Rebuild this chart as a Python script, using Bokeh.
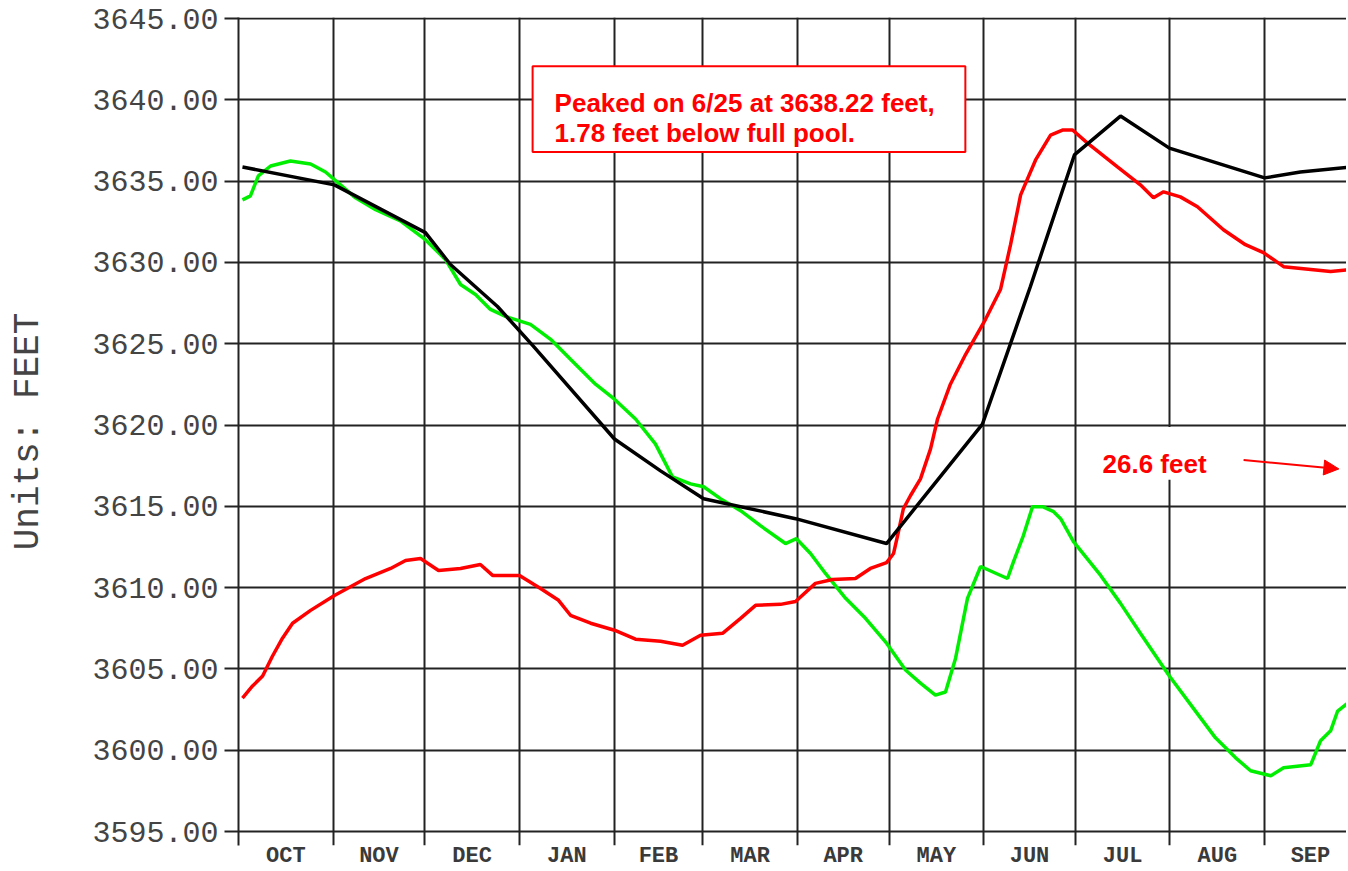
from bokeh.plotting import figure
from bokeh.models import FixedTicker, Range1d, BoxAnnotation, Label, Arrow, NormalHead
from bokeh.embed import file_html
from bokeh.resources import INLINE

# ---- data (day of water year, starting Oct 1 = day 0) ----
month_names = ["OCT", "NOV", "DEC", "JAN", "FEB", "MAR", "APR", "MAY", "JUN", "JUL", "AUG", "SEP"]
month_edges = [0, 31, 61, 92, 123, 152, 183, 213, 244, 274, 305, 336, 366]
month_mid = [(a + b) / 2 for a, b in zip(month_edges[:-1], month_edges[1:])]

y_ticks = [3595, 3600, 3605, 3610, 3615, 3620, 3625, 3630, 3635, 3640, 3645]
y_tick_labels = ["3595.00", "3600.00", "3605.00", "3610.00", "3615.00", "3620.00",
                 "3625.00", "3630.00", "3635.00", "3640.00", "3645.00"]

black_day = [1.3, 31.4, 61.2, 69.4, 84.8, 96.6, 123.1, 138.2, 152.3, 182.4, 212.2,
             243.6, 259.3, 273.7, 288.8, 304.8, 336.0, 347.7, 364.1]
black_ft = [3635.87, 3634.77, 3631.83, 3629.87, 3627.29, 3624.84, 3619.14, 3617.18, 3615.47,
            3614.24, 3612.71, 3620.06, 3628.52, 3636.61, 3639.00, 3637.03, 3635.20, 3635.56, 3635.87]

red_day = [1.3, 4.6, 7.9, 11.1, 14.4, 17.7, 23.6, 31.4, 41.6, 49.8, 54.7, 59.6, 65.5, 72.7,
           79.2, 83.2, 92.0, 98.9, 104.8, 108.7, 115.3, 123.1, 130.0, 138.2, 145.4, 151.3,
           158.5, 164.4, 169.3, 177.5, 182.4, 188.9, 194.5, 202.0, 206.9, 212.2, 214.5,
           216.1, 217.7, 220.0, 223.3, 226.6, 228.9, 233.1, 238.1, 244.6, 249.5, 252.8,
           256.1, 261.0, 265.9, 269.8, 273.1, 278.0, 287.8, 295.3, 299.6, 302.9, 308.4,
           314.0, 322.5, 329.7, 335.6, 342.2, 357.6, 364.1]
red_ft = [3603.21, 3603.95, 3604.56, 3605.78, 3606.89, 3607.81, 3608.60, 3609.52, 3610.56,
          3611.18, 3611.67, 3611.79, 3611.05, 3611.18, 3611.42, 3610.75, 3610.75, 3609.95,
          3609.22, 3608.30, 3607.81, 3607.38, 3606.83, 3606.70, 3606.46, 3607.07, 3607.19,
          3608.11, 3608.91, 3608.97, 3609.15, 3610.26, 3610.50, 3610.56, 3611.18, 3611.54,
          3612.10, 3613.44, 3614.85, 3615.65, 3616.69, 3618.53, 3620.37, 3622.51, 3624.35,
          3626.50, 3628.33, 3631.09, 3634.15, 3636.30, 3637.83, 3638.14, 3638.14, 3637.34,
          3635.87, 3634.77, 3633.97, 3634.34, 3634.03, 3633.42, 3632.01, 3631.09, 3630.60,
          3629.74, 3629.44, 3629.56]

green_day = [1.3, 3.9, 6.5, 10.5, 17.0, 23.6, 28.5, 33.4, 38.3, 44.9, 53.0, 61.2, 67.8, 72.7,
             77.6, 82.5, 87.4, 95.6, 102.2, 108.7, 116.9, 123.1, 130.0, 136.5, 142.1, 148.0,
             152.3, 157.8, 164.4, 170.9, 179.1, 182.7, 187.3, 192.2, 198.8, 205.3, 212.2,
             218.4, 223.3, 228.2, 231.5, 234.8, 238.7, 243.0, 251.8, 253.8, 257.0, 260.0,
             263.3, 266.9, 269.2, 273.4, 282.3, 288.8, 295.3, 304.8, 315.0, 319.9, 326.5,
             331.4, 338.0, 342.2, 351.1, 354.3, 357.6, 359.9, 364.1]
green_ft = [3633.85, 3634.09, 3635.32, 3635.93, 3636.24, 3636.05, 3635.56, 3634.77, 3633.97,
            3633.24, 3632.56, 3631.40, 3630.17, 3628.64, 3628.03, 3627.11, 3626.68, 3626.19,
            3625.27, 3624.04, 3622.51, 3621.59, 3620.37, 3618.84, 3616.81, 3616.38, 3616.20,
            3615.47, 3614.73, 3613.81, 3612.71, 3613.01, 3612.10, 3610.87, 3609.34, 3608.11,
            3606.58, 3604.93, 3604.13, 3603.39, 3603.58, 3605.66, 3609.34, 3611.30, 3610.56,
            3611.61, 3613.20, 3614.98, 3614.98, 3614.67, 3614.24, 3612.83, 3610.75, 3609.03,
            3607.19, 3604.56, 3601.99, 3600.76, 3599.53, 3598.74, 3598.43, 3598.92, 3599.11,
            3600.58, 3601.19, 3602.41, 3603.03]

note_peak = ["Peaked on 6/25 at 3638.22 feet,", "1.78 feet below full pool."]
note_diff = "26.6 feet"

# ---- figure ----
GRID = "#222222"
p = figure(width=1346, height=871, output_backend="svg", toolbar_location=None,
           x_range=Range1d(0, 362.8), y_range=Range1d(3594.14, 3645.062),
           min_border_left=238, min_border_right=0, min_border_top=17, min_border_bottom=24)
p.outline_line_color = None
p.background_fill_color = "white"
p.border_fill_color = "white"

# y axis
p.yaxis.ticker = FixedTicker(ticks=y_ticks)
p.yaxis.major_label_overrides = {t: s for t, s in zip(y_ticks, y_tick_labels)}
p.yaxis.major_label_text_font = "Liberation Mono"
p.yaxis.major_label_text_font_size = "30px"
p.yaxis.major_label_text_color = "#444444"
p.yaxis.major_label_standoff = 6
p.yaxis.major_tick_out = 14
p.yaxis.major_tick_in = 0
p.yaxis.major_tick_line_color = GRID
p.yaxis.major_tick_line_width = 2
p.yaxis.minor_tick_line_color = None
p.yaxis.axis_line_color = GRID
p.yaxis.axis_line_width = 2
p.yaxis.axis_label = "Units: FEET"
p.yaxis.axis_label_text_font = "Liberation Mono"
p.yaxis.axis_label_text_font_size = "36px"
p.yaxis.axis_label_text_font_style = "normal"
p.yaxis.axis_label_text_color = "#444444"
p.yaxis.axis_label_standoff = 40

# x axis (month names centred in each month)
p.xaxis.ticker = FixedTicker(ticks=month_mid)
p.xaxis.major_label_overrides = {t: s for t, s in zip(month_mid, month_names)}
p.xaxis.major_label_text_font = "Liberation Mono"
p.xaxis.major_label_text_font_size = "22px"
p.xaxis.major_label_text_font_style = "bold"
p.xaxis.major_label_text_color = "#3a3a3a"
p.xaxis.major_label_standoff = -2
p.xaxis.major_tick_out = 0
p.xaxis.major_tick_in = 0
p.xaxis.major_tick_line_color = None
p.xaxis.minor_tick_line_color = None
p.xaxis.minor_tick_out = 0
p.xaxis.axis_line_color = None

# grid
p.xgrid.ticker = FixedTicker(ticks=month_edges)
p.ygrid.ticker = FixedTicker(ticks=y_ticks)
for g in (p.xgrid, p.ygrid):
    g.grid_line_color = GRID
    g.grid_line_width = 2
    g.grid_line_alpha = 1.0

# series
p.line(green_day, green_ft, line_color="#00ee00", line_width=3.5)
p.line(red_day, red_ft, line_color="#ff0000", line_width=3.5)
p.line(black_day, black_ft, line_color="#000000", line_width=3.5)

# annotation box
p.add_layout(BoxAnnotation(left=96.3, right=238.0, top=3642.06, bottom=3636.79,
                           fill_color="white", fill_alpha=1.0,
                           line_color="#ff0000", line_width=2, line_alpha=1.0))
for txt, yy in zip(note_peak, [3639.79, 3637.95]):
    p.add_layout(Label(x=103.5, y=yy, text=txt, text_font="Liberation Sans",
                       text_font_style="bold", text_font_size="26px",
                       text_color="#ff0000", text_baseline="alphabetic", text_align="left"))

# 26.6 feet note
p.add_layout(BoxAnnotation(left=276.4, right=333.0, top=3619.88, bottom=3616.63,
                           fill_color="white", fill_alpha=1.0, line_color=None))
p.add_layout(Label(x=282.9, y=3617.61, text=note_diff, text_font="Liberation Sans",
                   text_font_style="bold", text_font_size="26px",
                   text_color="#ff0000", text_baseline="alphabetic", text_align="left"))
p.add_layout(Arrow(end=NormalHead(size=15, fill_color="#ff0000", line_color="#ff0000"),
                   x_start=329.1, y_start=3617.85, x_end=360.3, y_end=3617.30,
                   line_color="#ff0000", line_width=2))

open("out.html", "w").write(file_html(p, INLINE))
